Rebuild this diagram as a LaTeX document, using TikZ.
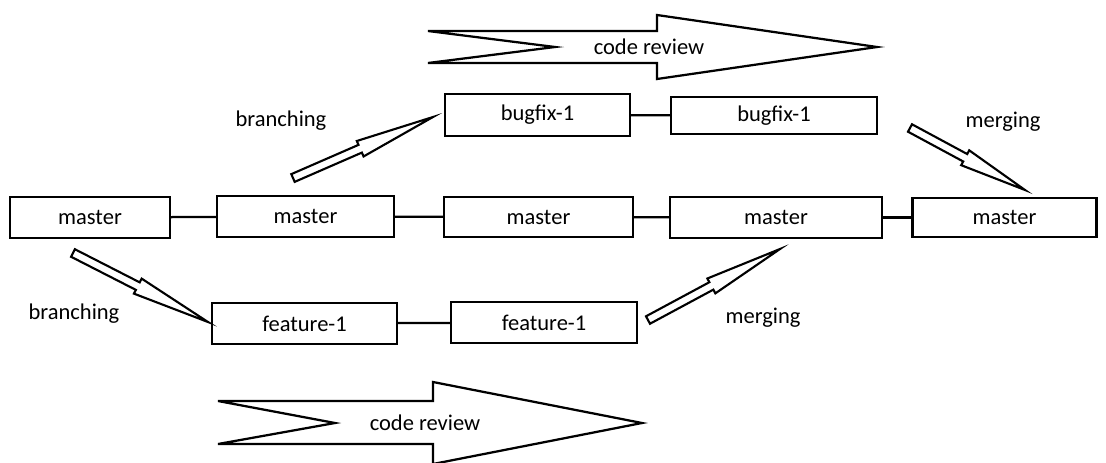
\documentclass[tikz,border=0pt]{standalone}
\usepackage{fontspec}
\setmainfont{Carlito}
\usetikzlibrary{calc}

% hollow thin arrow from #1 to #2
\newcommand{\thinarrow}[2]{%
  \draw[flow] ($(#1)!3pt!90:(#2)$)
    -- ($($(#1)!0.48!(#2)$)!3pt!90:(#2)$)
    -- ($($(#1)!0.48!(#2)$)!6pt!90:(#2)$)
    -- (#2)
    -- ($($(#1)!0.48!(#2)$)!6pt!-90:(#2)$)
    -- ($($(#1)!0.48!(#2)$)!3pt!-90:(#2)$)
    -- ($(#1)!3pt!-90:(#2)$) -- cycle;}

\begin{document}
\begin{tikzpicture}[x=0.025cm, y=-0.025cm,
    commit/.style={draw, line width=1.6pt, inner sep=0pt, font=\fontsize{16}{19}\selectfont},
    link/.style={line width=1.6pt},
    bigarrow/.style={draw, line width=1.6pt, line join=miter, fill=white},
    flow/.style={line width=1.5pt, line join=miter, fill=white},
    lbl/.style={font=\fontsize{16}{19}\selectfont}
]
    \useasboundingbox (0,0) rectangle (1106,462);

    % Code review arrows
    \draw[bigarrow] (428,31) -- (657,31) -- (657,15) -- (877,47) -- (657,79) -- (657,63)
        -- (428,63) -- (555,47) -- cycle;
    \node[lbl] (reviewtop) at (649,47) {code review};
    \draw[bigarrow] (218,401) -- (433,401) -- (433,382) -- (642,423) -- (433,464) -- (433,444)
        -- (218,444) -- (335,423) -- cycle;
    \node[lbl] (reviewbot) at (425,423) {code review};

    % Master line
    \node[commit, minimum width=4cm, minimum height=1.025cm] (m1) at (90,217.5) {master};
    \node[commit, minimum width=4.425cm, minimum height=1.025cm] (m2) at (305.5,216.5) {master};
    \node[commit, minimum width=4.725cm, minimum height=1cm] (m3) at (538.5,217) {master};
    \node[commit, minimum width=5.3cm, minimum height=1.025cm] (m4) at (776,217.5) {master};
    \node[commit, minimum width=4.6cm, minimum height=0.975cm] (m5) at (1004.5,217.5) {master};

    % Bugfix branch
    \node[commit, minimum width=4.625cm, minimum height=1.05cm] (bug1) at (537.5,115) {bugfix-1};
    \node[commit, minimum width=5.15cm, minimum height=0.925cm] (bug2) at (774,115.5) {bugfix-1};

    % Feature branch
    \node[commit, minimum width=4.625cm, minimum height=1.025cm] (feat1) at (304.5,323.5) {feature-1};
    \node[commit, minimum width=4.65cm, minimum height=1.025cm] (feat2) at (544,322.5) {feature-1};

    % Links
    \draw[link] (m1) -- (m2);
    \draw[link] (m2) -- (m3);
    \draw[link] (m3) -- (m4);
    \draw[link] (m4) -- (m5);
    \draw[link] (bug1) -- (bug2);
    \draw[link] (feat1) -- (feat2);

    % Branching and merging
    \coordinate (bruptail) at (293,178);
    \coordinate (bruptip) at (433,117);
    \coordinate (mgdntail) at (910,128);
    \coordinate (mgdntip) at (1025,190);
    \coordinate (brdntail) at (73,253);
    \coordinate (brdntip) at (208,322);
    \coordinate (mguptail) at (648,320);
    \coordinate (mguptip) at (780,249);
    \thinarrow{bruptail}{bruptip}
    \thinarrow{mgdntail}{mgdntip}
    \thinarrow{brdntail}{brdntip}
    \thinarrow{mguptail}{mguptip}

    \node[lbl] (brup) at (281,121) {branching};
    \node[lbl] (mgup) at (1003,122) {merging};
    \node[lbl] (brdn) at (74,314) {branching};
    \node[lbl] (mgdn) at (763,318) {merging};

\end{tikzpicture}
\end{document}
